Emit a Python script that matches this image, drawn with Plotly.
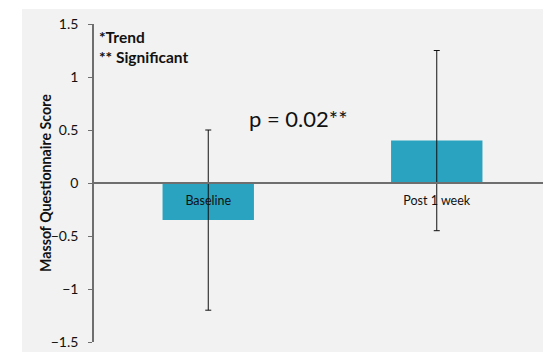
import plotly.graph_objects as go

# Mean Massof questionnaire score change with error bars
categories = ["Baseline", "Post 1 week"]
means = [-0.35, 0.40]
errors = [0.85, 0.85]

y_ticks = [-1.5, -1, -0.5, 0, 0.5, 1, 1.5]
y_tick_labels = ["−1.5", "−1", "−0.5", "0", "0.5", "1", "1.5"]
y_title = "Massof Questionnaire Score"

notes = ["*Trend", "** Significant"]
p_text = "p = 0.02**"

BAR = "#2aa3c0"
AXIS = "#6e6e6e"
PANEL = "#f2f2f2"
FONT = "Lato, 'Open Sans', sans-serif"

W, H = 543, 352
ml, mr, mt, mb = 94, 0, 24, 10
pw, ph = W - ml - mr, H - mt - mb

fig = go.Figure(
    go.Bar(
        x=categories,
        y=means,
        width=0.4,
        marker=dict(color=BAR, line=dict(width=0)),
        error_y=dict(type="data", array=errors, visible=True,
                     color="#111111", thickness=1, width=3),
    )
)

# light gray panel behind the chart, starting left of the y axis
fig.add_shape(type="rect", xref="paper", yref="paper", layer="below",
              x0=(22 - ml) / pw, x1=1.02, y0=-(mb + 2) / ph, y1=(H - mb - 9) / ph,
              fillcolor=PANEL, line=dict(width=0))

fig.update_layout(
    width=W, height=H,
    margin=dict(l=ml, r=mr, t=mt, b=mb),
    paper_bgcolor="white",
    plot_bgcolor=PANEL,
    showlegend=False,
    font=dict(family=FONT, color="#1a1a1a"),
    xaxis=dict(
        range=[-0.5, 1.465],
        anchor="free", position=0.5,
        showline=True, linecolor=AXIS, linewidth=1.6,
        ticks="outside", ticklen=6, tickcolor="rgba(0,0,0,0)",
        tickfont=dict(size=12.5, color="#111111", family=FONT),
        showgrid=False, zeroline=False, fixedrange=True,
    ),
    yaxis=dict(
        range=[-1.5, 1.5],
        tickvals=y_ticks, ticktext=y_tick_labels,
        showline=True, linecolor=AXIS, linewidth=1.6,
        ticks="outside", ticklen=4, tickcolor=AXIS, tickwidth=1.2,
        ticklabelstandoff=7,
        tickfont=dict(size=14, color="#111111", family=FONT),
        showgrid=False, zeroline=False,
    ),
)

# rotated y-axis title
fig.add_annotation(text="<b>" + y_title + "</b>", xref="paper", yref="paper",
                   x=(45 - ml) / pw, y=0.5, textangle=-90,
                   xanchor="center", yanchor="middle", showarrow=False,
                   font=dict(size=14.2, color="#111111", family=FONT))

for i, note in enumerate(notes):
    fig.add_annotation(text="<b>" + note + "</b>", xref="paper", yref="paper",
                       x=(98 - ml) / pw, y=(H - mb - (37 + 19.5 * i)) / ph,
                       xanchor="left", yanchor="middle", showarrow=False,
                       borderpad=0,
                       font=dict(size=15.5, color="#111111", family=FONT))

fig.add_annotation(text=p_text, x=0.397, y=0.613, xref="x", yref="y",
                   xanchor="center", yanchor="middle", showarrow=False,
                   font=dict(size=22, color="#111111", family=FONT))

fig.write_html("out.html")
